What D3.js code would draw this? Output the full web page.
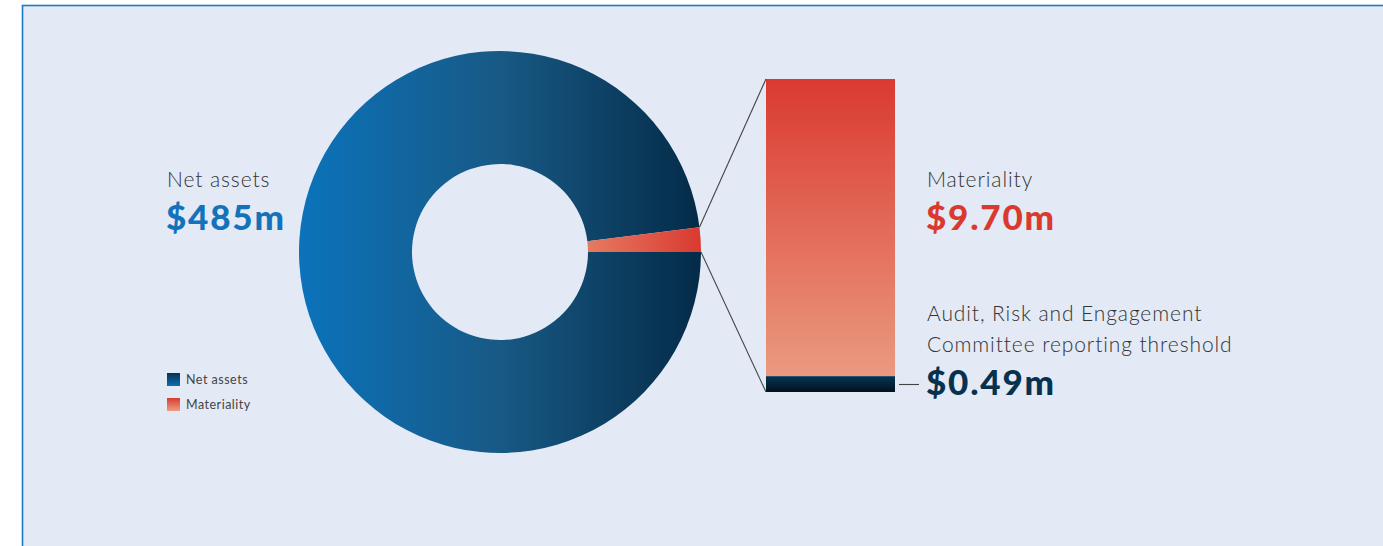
<!DOCTYPE html>
<html>
<head>
<meta charset="utf-8">
<script src="https://cdn.jsdelivr.net/npm/d3@7"></script>
<style>
  body { margin: 0; background: #ffffff; }
  svg { display: block; font-family: "Lato", "Open Sans", sans-serif; }
</style>
</head>
<body>
<svg></svg>
<script>
// data
let categories = ['Net assets', 'Materiality']
let values = [485, 9.70]
let valueLabels = ['$485m', '$9.70m']
let thresholdName = ['Audit, Risk and Engagement', 'Committee reporting threshold']
let thresholdValue = 0.49
let thresholdLabel = '$0.49m'

let width = 1383
let height = 546

let svg = d3.select('svg')
    .attr('width', width)
    .attr('height', height)

let defs = svg.append('defs')

// gradients
let addGradient = (id, x1, y1, x2, y2, stops) => {
    let g = defs.append('linearGradient')
        .attr('id', id)
        .attr('x1', x1).attr('y1', y1)
        .attr('x2', x2).attr('y2', y2)
    stops.forEach((s) => {
        g.append('stop').attr('offset', s[0]).attr('stop-color', s[1])
    })
}

addGradient('donutBlue', 0, 0, 1, 0, [['0%', '#0b73bb'], ['50%', '#185985'], ['100%', '#042b48']])
addGradient('sliceRed', 0, 0, 1, 0, [['0%', '#e67a62'], ['100%', '#d93a30']])
addGradient('barRed', 0, 0, 0, 1, [['0%', '#da3a30'], ['100%', '#eb9a80']])
addGradient('barDark', 0, 0, 0, 1, [['0%', '#073553'], ['100%', '#02111f']])
addGradient('legBlue', 0, 0, 0, 1, [['0%', '#07304f'], ['100%', '#0b6fb4']])
addGradient('legRed', 0, 0, 0, 1, [['0%', '#da3b30'], ['100%', '#ec9c82']])

// panel
svg.append('rect')
    .attr('x', 22.5)
    .attr('y', 5.5)
    .attr('width', width)
    .attr('height', height)
    .attr('fill', '#e3e9f5')
    .attr('stroke', '#1a7ac8')
    .attr('stroke-width', 1.6)

// donut
let cx = 500
let cy = 252
let outerR = 201
let innerR = 88

let pie = d3.pie()
    .sort(null)
    .startAngle(Math.PI / 2)
    .endAngle(Math.PI / 2 + 2 * Math.PI)

let arcs = pie(values)

let arc = d3.arc()
    .innerRadius(innerR)
    .outerRadius(outerR)

let donut = svg.append('g')
    .attr('transform', 'translate(' + cx + ',' + cy + ')')

donut.selectAll('path')
    .data(arcs)
    .enter()
    .append('path')
    .attr('d', arc)
    .attr('fill', (d, i) => i === 0 ? 'url(#donutBlue)' : 'url(#sliceRed)')

// stacked bar for materiality
let barX = 766
let barW = 129
let yScale = d3.scaleLinear()
    .domain([0, values[1]])
    .range([392, 79])

svg.append('rect')
    .attr('x', barX)
    .attr('y', yScale(values[1]))
    .attr('width', barW)
    .attr('height', yScale(thresholdValue) - yScale(values[1]))
    .attr('fill', 'url(#barRed)')

svg.append('rect')
    .attr('x', barX)
    .attr('y', yScale(thresholdValue))
    .attr('width', barW)
    .attr('height', yScale(0) - yScale(thresholdValue))
    .attr('fill', 'url(#barDark)')

// connector lines from the slice to the bar
let slice = arcs[1]
let edge = (a) => [cx + outerR * Math.sin(a), cy - outerR * Math.cos(a)]
let p1 = edge(slice.startAngle)
let p2 = edge(slice.endAngle)

svg.append('line')
    .attr('x1', p1[0]).attr('y1', p1[1])
    .attr('x2', barX).attr('y2', yScale(values[1]))
    .attr('stroke', '#444')
    .attr('stroke-width', 1.1)

svg.append('line')
    .attr('x1', p2[0]).attr('y1', p2[1])
    .attr('x2', barX).attr('y2', yScale(0))
    .attr('stroke', '#444')
    .attr('stroke-width', 1.1)

// tick before threshold value
svg.append('line')
    .attr('x1', 899).attr('y1', 384.5)
    .attr('x2', 919).attr('y2', 384.5)
    .attr('stroke', '#444')
    .attr('stroke-width', 1.1)

// labels
let addText = (x, y, txt, size, weight, color, spacing) => {
    svg.append('text')
        .attr('x', x)
        .attr('y', y)
        .attr('font-size', size)
        .attr('font-weight', weight)
        .attr('letter-spacing', spacing)
        .attr('fill', color)
        .text(txt)
}

addText(167, 187, categories[0], 21, 300, '#333', 0.9)
addText(166, 230, valueLabels[0], 35, 900, '#1472ba', 1.8)

addText(927, 187, categories[1], 21, 300, '#333', 0.9)
addText(926, 230, valueLabels[1], 35, 900, '#d93a2f', 1.8)

addText(927, 321, thresholdName[0], 21, 300, '#333', 0.9)
addText(927, 352, thresholdName[1], 21, 300, '#333', 0.9)
addText(926, 395, thresholdLabel, 35, 900, '#07324f', 1.8)

// legend
let legend = svg.append('g')
    .attr('transform', 'translate(167,373)')

legend.selectAll('rect')
    .data(categories)
    .enter()
    .append('rect')
    .attr('x', 0)
    .attr('y', (d, i) => i * 25)
    .attr('width', 13)
    .attr('height', 13)
    .attr('fill', (d, i) => i === 0 ? 'url(#legBlue)' : 'url(#legRed)')

legend.selectAll('text')
    .data(categories)
    .enter()
    .append('text')
    .attr('x', 19)
    .attr('y', (d, i) => i * 25 + 11)
    .attr('font-size', 12.5)
    .attr('letter-spacing', 0.5)
    .attr('fill', '#444')
    .text((d) => d)
</script>
</body>
</html>
